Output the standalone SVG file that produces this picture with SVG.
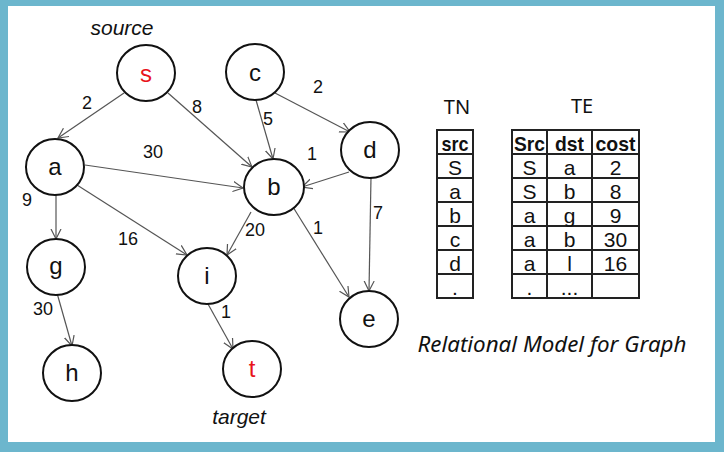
<svg xmlns="http://www.w3.org/2000/svg" width="724" height="452" viewBox="0 0 724 452">
<style>
.node ellipse{fill:#fff;stroke:#111;stroke-width:2}
.nl{font-family:"Liberation Sans",Arial,sans-serif;font-size:24px;fill:#111;text-anchor:middle}
.red{fill:#e8141b}
.edge{stroke:#555;stroke-width:1.2;fill:none;marker-end:url(#arr)}
.el{font-family:"Liberation Sans",Arial,sans-serif;font-size:18px;fill:#111;text-anchor:middle}
.it{font-family:"Liberation Sans",Arial,sans-serif;font-style:italic;font-size:21px;fill:#111;text-anchor:middle}
.tb{fill:none;stroke:#222;stroke-width:2}
.tt{font-family:"Liberation Sans",Arial,sans-serif;font-size:21px;fill:#111;text-anchor:middle}
.th{font-family:"Liberation Sans",Arial,sans-serif;font-size:21px;font-weight:bold;fill:#111;text-anchor:middle}
.title{font-family:"Noto Sans","Open Sans",sans-serif;font-size:20px;fill:#111;text-anchor:middle}
</style>
<defs>
<marker id="arr" markerUnits="userSpaceOnUse" markerWidth="12" markerHeight="12" refX="10" refY="5" orient="auto" viewBox="0 0 12 10">
<path d="M0,0 L10,5 L0,10" fill="none" stroke="#555" stroke-width="1.2"/>
</marker>
</defs>
<rect x="0" y="0" width="724" height="452" fill="#6cb6cd"/>
<rect x="8" y="6" width="707" height="436" fill="#fff"/>

<g id="connectors">
<line class="edge" x1="124" y1="93" x2="58" y2="138"/>
<line class="edge" x1="168" y1="93" x2="252" y2="167"/>
<line class="edge" x1="85" y1="165" x2="243" y2="188"/>
<line class="edge" x1="256" y1="100" x2="273" y2="159"/>
<line class="edge" x1="275" y1="93" x2="350" y2="132"/>
<line class="edge" x1="349" y1="172" x2="302" y2="187"/>
<line class="edge" x1="56" y1="193" x2="56" y2="239"/>
<line class="edge" x1="77" y1="185" x2="187" y2="255"/>
<line class="edge" x1="251" y1="212" x2="227" y2="255"/>
<line class="edge" x1="293" y1="207" x2="349" y2="297"/>
<line class="edge" x1="371" y1="177" x2="369" y2="291"/>
<line class="edge" x1="57" y1="293" x2="72" y2="346"/>
<line class="edge" x1="208" y1="304" x2="233" y2="349"/>
<text class="el" x="87" y="109">2</text>
<text class="el" x="197" y="113">8</text>
<text class="el" x="153" y="158">30</text>
<text class="el" x="27" y="206">9</text>
<text class="el" x="268" y="125">5</text>
<text class="el" x="318" y="93">2</text>
<text class="el" x="312" y="160">1</text>
<text class="el" x="128" y="245">16</text>
<text class="el" x="255" y="236">20</text>
<text class="el" x="318" y="234">1</text>
<text class="el" x="378" y="219">7</text>
<text class="el" x="43" y="315">30</text>
<text class="el" x="226" y="318">1</text>
</g>

<g id="node-s" class="node"><ellipse cx="146" cy="73" rx="29" ry="28"/><text class="nl red" x="146" y="82">s</text></g>
<g id="node-c" class="node"><ellipse cx="255" cy="72" rx="29" ry="28"/><text class="nl" x="255" y="81">c</text></g>
<g id="node-a" class="node"><ellipse cx="55" cy="167" rx="29" ry="28"/><text class="nl" x="55" y="175">a</text></g>
<g id="node-b" class="node"><ellipse cx="274" cy="187" rx="30" ry="28"/><text class="nl" x="274" y="195">b</text></g>
<g id="node-d" class="node"><ellipse cx="370" cy="150" rx="29" ry="28"/><text class="nl" x="370" y="158">d</text></g>
<g id="node-e" class="node"><ellipse cx="369" cy="319" rx="29" ry="28"/><text class="nl" x="369" y="327">e</text></g>
<g id="node-g" class="node"><ellipse cx="56" cy="267" rx="29" ry="28"/><text class="nl" x="56" y="274">g</text></g>
<g id="node-h" class="node"><ellipse cx="72" cy="373" rx="29" ry="28"/><text class="nl" x="72" y="381">h</text></g>
<g id="node-i" class="node"><ellipse cx="207" cy="276" rx="29" ry="28"/><text class="nl" x="207" y="284">i</text></g>
<g id="node-t" class="node"><ellipse cx="252" cy="369" rx="29" ry="28"/><text class="nl red" x="252" y="377">t</text></g>

<text class="it" x="122" y="35">source</text>
<text class="it" x="239" y="424">target</text>

<g id="table-TN">
<text class="title" x="457" y="114">TN</text>
<rect class="tb" x="437" y="130" width="36" height="168"/>
<path class="tb" d="M437,154H473M437,178H473M437,202H473M437,226H473M437,250H473M437,274H473"/>
<text class="th" x="455" y="151" textLength="27" lengthAdjust="spacingAndGlyphs">src</text>
<text class="tt" x="455" y="175">S</text>
<text class="tt" x="455" y="199">a</text>
<text class="tt" x="455" y="223">b</text>
<text class="tt" x="455" y="247">c</text>
<text class="tt" x="455" y="271">d</text>
<text class="tt" x="455" y="295">.</text>
</g>

<g id="table-TE">
<text class="title" x="582" y="113">TE</text>
<rect class="tb" x="512" y="130" width="127" height="168"/>
<path class="tb" d="M512,154H639M512,178H639M512,202H639M512,226H639M512,250H639M512,274H639M547,130V298M592,130V298"/>
<text class="th" x="529.5" y="151" textLength="31" lengthAdjust="spacingAndGlyphs">Src</text>
<text class="th" x="569.5" y="151" textLength="29" lengthAdjust="spacingAndGlyphs">dst</text>
<text class="th" x="615.5" y="151" textLength="40" lengthAdjust="spacingAndGlyphs">cost</text>
<text class="tt" x="529.5" y="175">S</text><text class="tt" x="569.5" y="175">a</text><text class="tt" x="615.5" y="175">2</text>
<text class="tt" x="529.5" y="199">S</text><text class="tt" x="569.5" y="199">b</text><text class="tt" x="615.5" y="199">8</text>
<text class="tt" x="529.5" y="223">a</text><text class="tt" x="569.5" y="223">g</text><text class="tt" x="615.5" y="223">9</text>
<text class="tt" x="529.5" y="247">a</text><text class="tt" x="569.5" y="247">b</text><text class="tt" x="615.5" y="247">30</text>
<text class="tt" x="529.5" y="271">a</text><text class="tt" x="569.5" y="271">l</text><text class="tt" x="615.5" y="271">16</text>
<text class="tt" x="529.5" y="295">.</text><text class="tt" x="569.5" y="295">...</text>
</g>

<text x="552" y="352" font-family="'Noto Sans','Open Sans',sans-serif" font-style="italic" font-size="22" fill="#111" text-anchor="middle" textLength="269" lengthAdjust="spacingAndGlyphs">Relational Model for Graph</text>
</svg>
